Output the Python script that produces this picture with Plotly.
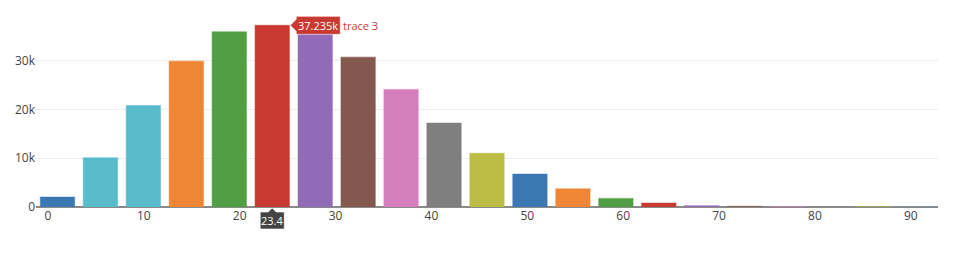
import plotly.graph_objects as go

# ---- data ----
bin_centers = [1.0, 5.48, 9.96, 14.44, 18.92, 23.4, 27.88, 32.36, 36.84, 41.32, 45.8,
               50.28, 54.76, 59.24, 63.72, 68.2, 72.68, 77.16, 81.64, 86.12, 90.6]
counts = [2050, 10100, 20800, 29900, 35900, 37235, 35500, 30700, 24100, 17200, 11000,
          6750, 3740, 1760, 820, 270, 120, 60, 40, 30, 20]
bar_colors = ["#3b78b2", "#58bbcc", "#58bbcc", "#ef8636", "#529e44", "#c83a31",
              "#926bb8", "#84584e", "#d57ebd", "#7f7f7f", "#bdbc44",
              "#3b78b2", "#ef8636", "#529e44", "#c83a31", "#926bb8", "#84584e",
              "#d57ebd", "#7f7f7f", "#bdbc44", "#6fa3cf"]
x_ticks = [0, 10, 20, 30, 40, 50, 60, 70, 80, 90]
y_ticks = [0, 10000, 20000, 30000]
y_tick_labels = ["0", "10k", "20k", "30k"]
hover_index = 5
hover_value_label = "37.235k"
hover_trace_name = "trace 3"
hover_x_label = "23.4"


def lighten(hexc, a=0.45):
    h = hexc.lstrip("#")
    r, g, b = int(h[0:2], 16), int(h[2:4], 16), int(h[4:6], 16)
    return f"rgba({r},{g},{b},{a})"


fig = go.Figure()
fig.add_trace(go.Bar(
    x=bin_centers, y=counts,
    marker=dict(color=bar_colors,
                line=dict(color=[lighten(c) for c in bar_colors], width=1.2)),
    hoverinfo="skip", showlegend=False,
))

hx = bin_centers[hover_index]
hy = counts[hover_index]
hcol = bar_colors[hover_index]

# static imitation of the value hover label (red box pointing at the bar)
fig.add_shape(type="path", xref="x", yref="y", xsizemode="pixel", ysizemode="pixel",
              xanchor=hx, yanchor=hy,
              path="M18,0 L24,6 V9 H68 V-9 H24 V-6 Z",
              fillcolor=hcol, line=dict(color="rgba(255,255,255,0.6)", width=1), layer="above")
fig.add_annotation(x=hx, y=hy, xref="x", yref="y", text=hover_value_label, showarrow=False,
                   xanchor="center", yanchor="middle", xshift=46, yshift=0,
                   font=dict(family="Open Sans, Arial, sans-serif", size=11, color="white"))
fig.add_annotation(x=hx, y=hy, xref="x", yref="y", text=hover_trace_name, showarrow=False,
                   xanchor="left", yanchor="middle", xshift=69, yshift=0,
                   font=dict(family="Open Sans, Arial, sans-serif", size=11, color=hcol))

# static imitation of the x-axis hover label (paper y so it is not clipped)
fig.add_shape(type="path", xref="x", yref="paper", xsizemode="pixel", ysizemode="pixel",
              xanchor=hx, yanchor=0,
              path="M0,-1 L4,-5 H12 V-22 H-12 V-5 H-4 Z",
              fillcolor="#444", line=dict(color="rgba(255,255,255,0.6)", width=1), layer="above")
fig.add_annotation(x=hx, y=0, xref="x", yref="paper", text=hover_x_label, showarrow=False,
                   xanchor="center", yanchor="middle", yshift=-13.5,
                   font=dict(family="Open Sans, Arial, sans-serif", size=11, color="white"))

fig.update_layout(
    width=964, height=256,
    margin=dict(l=36, r=26, t=16, b=49),
    paper_bgcolor="white", plot_bgcolor="white",
    bargap=0.2,
    font=dict(family="Open Sans, Arial, sans-serif", size=12, color="#444"),
    xaxis=dict(tickmode="array", tickvals=x_ticks, showgrid=False, zeroline=False,
               showline=False, ticks="", fixedrange=True),
    yaxis=dict(tickmode="array", tickvals=y_ticks, ticktext=y_tick_labels,
               range=[0, 39150], showgrid=True, gridcolor="#eeeeee", gridwidth=1,
               zeroline=True, zerolinecolor="#8a8a8a", zerolinewidth=1.5,
               showline=False, ticks="", fixedrange=True),
)

fig.write_html("out.html")
